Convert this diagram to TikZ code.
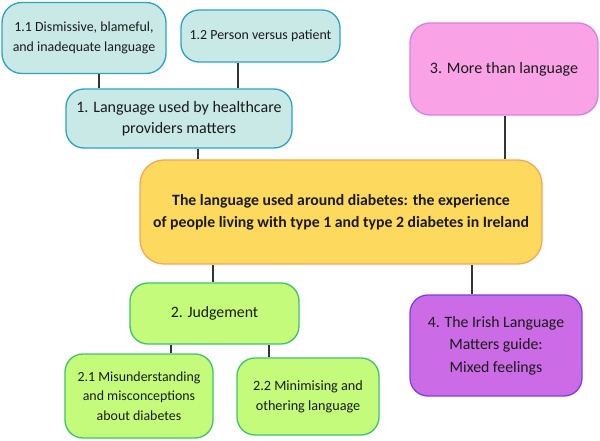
\documentclass[tikz,border=0pt]{standalone}
\usepackage{fontspec}
\setmainfont{Carlito}
\definecolor{tealfill}{HTML}{C8E9E6}
\definecolor{tealdraw}{HTML}{2CA3C4}
\definecolor{pinkfill}{HTML}{F9A3E6}
\definecolor{pinkdraw}{HTML}{D87FE6}
\definecolor{yelfill}{HTML}{FDD95E}
\definecolor{yeldraw}{HTML}{F7A65A}
\definecolor{grnfill}{HTML}{C4FB7A}
\definecolor{grndraw}{HTML}{3CC46A}
\definecolor{purfill}{HTML}{CC6BE6}
\definecolor{purdraw}{HTML}{7A40E6}
\definecolor{txt}{HTML}{1A1A1A}
\definecolor{conn}{HTML}{333333}
\tikzset{
  box/.style={rounded corners=18pt, line width=1.3pt, inner sep=0pt, align=center, text=txt},
  tealbox/.style={box, fill=tealfill, draw=tealdraw},
  pinkbox/.style={box, fill=pinkfill, draw=pinkdraw},
  yelbox/.style={box, fill=yelfill, draw=yeldraw, rounded corners=24pt},
  grnbox/.style={box, fill=grnfill, draw=grndraw},
  purbox/.style={box, fill=purfill, draw=purdraw},
  conn/.style={draw=conn, line width=1.2pt},
}
\begin{document}
\begin{tikzpicture}[x=1pt, y=-1pt]
\useasboundingbox (0,0) rectangle (600,441);
\node[tealbox, minimum width=164pt, minimum height=71pt, rounded corners=20pt, font=\fontsize{13.9}{20}\selectfont] (b11) at (84,38) {1.1 Dismissive, blameful,\\and inadequate language};
\node[tealbox, minimum width=159pt, minimum height=52pt, font=\fontsize{13.9}{20}\selectfont] (b12) at (260.5,36) {1.2 Person versus patient};
\node[tealbox, minimum width=226pt, minimum height=59pt, font=\fontsize{16}{21.5}\selectfont] (b1) at (179,118.5) {1. Language used by healthcare\\providers matters};
\node[pinkbox, minimum width=188pt, minimum height=92pt, rounded corners=20pt, font=\fontsize{16}{21}\selectfont] (b3) at (504,69) {3. More than language};
\node[yelbox, minimum width=402pt, minimum height=104pt, font=\bfseries\fontsize{15.75}{22}\selectfont] (c) at (341,212) {The language used around diabetes: the experience\\of people living with type 1 and type 2 diabetes in Ireland};
\node[grnbox, minimum width=169pt, minimum height=61pt, font=\fontsize{15.8}{21}\selectfont] (b2) at (214.5,313.5) {2. Judgement};
\node[grnbox, minimum width=148pt, minimum height=84pt, font=\fontsize{13.9}{19.5}\selectfont] (b21) at (139,396) {2.1 Misunderstanding\\and misconceptions\\about diabetes};
\node[grnbox, minimum width=142pt, minimum height=77pt, font=\fontsize{14.2}{20}\selectfont] (b22) at (308,396.5) {2.2 Minimising and\\othering language};
\node[purbox, minimum width=172pt, minimum height=101pt, font=\fontsize{15.8}{22.5}\selectfont] (b4) at (496,345.5) {4. The Irish Language\\Matters guide:\\Mixed feelings};
\draw[conn] (b11.south -| 99,0) -- (b1.north -| 99,0);
\draw[conn] (b12.south -| 238,0) -- (b1.north -| 238,0);
\draw[conn] (b1.south -| 198,0) -- (c.north -| 198,0);
\draw[conn] (b3.south -| 505,0) -- (c.north -| 505,0);
\draw[conn] (c.south -| 213,0) -- (b2.north -| 213,0);
\draw[conn] (c.south -| 472,0) -- (b4.north -| 472,0);
\draw[conn] (b2.south -| 171,0) -- (b21.north -| 171,0);
\draw[conn] (b2.south -| 269,0) -- (b22.north -| 269,0);
\end{tikzpicture}
\end{document}
